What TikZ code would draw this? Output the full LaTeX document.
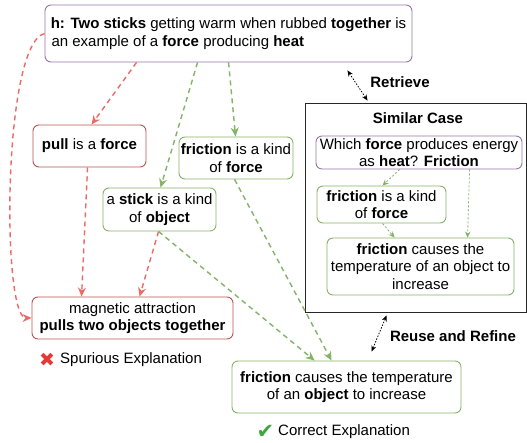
\documentclass[tikz,border=0pt]{standalone}
\usepackage{fontspec}
\setmainfont{Liberation Sans}
\newfontfamily\symfont{DejaVu Sans}
\usetikzlibrary{arrows.meta}
\definecolor{redline}{HTML}{EA6B66}
\definecolor{redbox}{HTML}{B85450}
\definecolor{greenbox}{HTML}{82B366}
\definecolor{greenline}{HTML}{82B366}
\definecolor{purplebox}{HTML}{9673A6}
\definecolor{xred}{HTML}{E53935}
\definecolor{okgreen}{HTML}{3DA63F}
\tikzset{
  box/.style={draw, rounded corners=6pt, line width=0.9pt, inner sep=0pt, align=center,
    font=\fontsize{15}{17.5}\selectfont},
  redbx/.style={box, draw=redbox},
  greenbx/.style={box, draw=greenbox},
  purplebx/.style={box, draw=purplebox},
  lbl/.style={inner sep=0pt, font=\fontsize{15}{17.5}\selectfont},
  redarrow/.style={draw=redline, line width=1.4pt, dash pattern=on 5pt off 4pt,
    -{Stealth[length=9pt,width=8pt]}},
  greenarrow/.style={draw=greenline, line width=1.4pt, dash pattern=on 5pt off 4pt,
    -{Stealth[length=9pt,width=8pt]}},
  innerarrow/.style={draw=greenline, line width=0.8pt, dash pattern=on 2pt off 2pt,
    -{Stealth[length=6pt,width=5.5pt]}},
  blackarrow/.style={draw=black, line width=0.8pt, dash pattern=on 1.5pt off 1.5pt,
    {Stealth[length=6pt,width=5pt]}-{Stealth[length=6pt,width=5pt]}},
}
\begin{document}
\begin{tikzpicture}[x=1pt,y=-1pt]
\useasboundingbox (0,0) rectangle (527,443);

% main nodes
\node[purplebx, minimum width=367pt, minimum height=57pt] (h) at (228.5,33.5)
  {\textbf{h: Two sticks} getting warm when rubbed \textbf{together} is\\[0pt]
   \makebox[354pt][l]{an example of a \textbf{force} producing \textbf{heat}}};
\node[redbx, minimum width=113pt, minimum height=42pt] (pull) at (89.5,146)
  {\textbf{pull} is a \textbf{force}};
\node[greenbx, minimum width=114pt, minimum height=42pt] (fric) at (236,158)
  {\textbf{friction} is a kind\\of \textbf{force}};
\node[greenbx, minimum width=113pt, minimum height=43pt] (stick) at (159.5,209.5)
  {a \textbf{stick} is a kind\\of \textbf{object}};
\node[redbx, minimum width=201pt, minimum height=42pt] (mag) at (132.5,318)
  {magnetic attraction\\\textbf{pulls two objects together}};
\node[greenbx, minimum width=229pt, minimum height=52pt] (res) at (346.5,387)
  {\textbf{friction} causes the temperature\\of an \textbf{object} to increase};

% similar case
\node[draw=black!85, line width=0.9pt, minimum width=221pt, minimum height=209pt, inner sep=0pt] (case) at (415.5,207.5) {};
\node[lbl, font=\fontsize{15}{17.5}\selectfont\bfseries] (casetitle) at (418,118) {Similar Case};
\node[purplebx, minimum width=206pt, minimum height=33pt] (q) at (419,152.5)
  {Which \textbf{force} produces energy\\as \textbf{heat}? \textbf{Friction}};
\node[greenbx, minimum width=129pt, minimum height=37pt] (fric2) at (381.5,204.5)
  {\textbf{friction} is a kind\\of \textbf{force}};
\node[greenbx, minimum width=187pt, minimum height=57pt] (big) at (420.5,266.5)
  {\textbf{friction} causes the\\temperature of an object to\\increase};

% labels
\node[lbl, font=\fontsize{15}{17.5}\selectfont\bfseries] (retrieve) at (400,82) {Retrieve};
\node[lbl, font=\fontsize{15}{17.5}\selectfont\bfseries] (reuse) at (453,336) {Reuse and Refine};
\node[lbl, text=xred, font=\symfont\fontsize{19}{19}\selectfont] (xmark) at (47,360) {✖};
\node[lbl, anchor=west] (spur) at (60,360) {Spurious Explanation};
\node[lbl, text=okgreen, font=\symfont\fontsize{21}{21}\selectfont] (check) at (265.5,432) {✔};
\node[lbl, anchor=west] (corr) at (278,432) {Correct Explanation};

% red connectors
\draw[redarrow] ([xshift=92pt]h.south west) -- ([xshift=59pt]pull.north west);
\draw[redarrow] (h.west) .. controls +(-42,10) and +(-30,0) .. (mag.west);
\draw[redarrow] ([xshift=55pt]pull.south west) -- ([xshift=50pt]mag.north west);
\draw[redarrow] ([xshift=56pt]stick.south west) -- ([xshift=108pt]mag.north west);

% green connectors
\draw[greenarrow] ([xshift=153pt]h.south west) -- ([xshift=58pt]stick.north west);
\draw[greenarrow] ([xshift=184pt]h.south west) -- ([xshift=57pt]fric.north west);
\draw[greenarrow] ([xshift=56pt]stick.south west) -- ([xshift=83pt]res.north west);
\draw[greenarrow] ([xshift=56pt]fric.south west) -- ([xshift=100pt]res.north west);

% inner connectors
\draw[innerarrow] ([xshift=84pt]q.south west) -- ([xshift=66pt]fric2.north west);
\draw[innerarrow] ([xshift=154pt]q.south west) -- ([xshift=141pt]big.north west);
\draw[innerarrow] ([xshift=66pt]fric2.south west) -- ([xshift=68pt]big.north west);

% retrieve / reuse
\draw[blackarrow] ([xshift=-65pt,yshift=-8pt]h.south east) -- ([xshift=63pt,yshift=2pt]case.north west);
\draw[blackarrow] ([xshift=82pt,yshift=-3pt]case.south west) -- ([xshift=140pt,yshift=9pt]res.north west);
\end{tikzpicture}
\end{document}
